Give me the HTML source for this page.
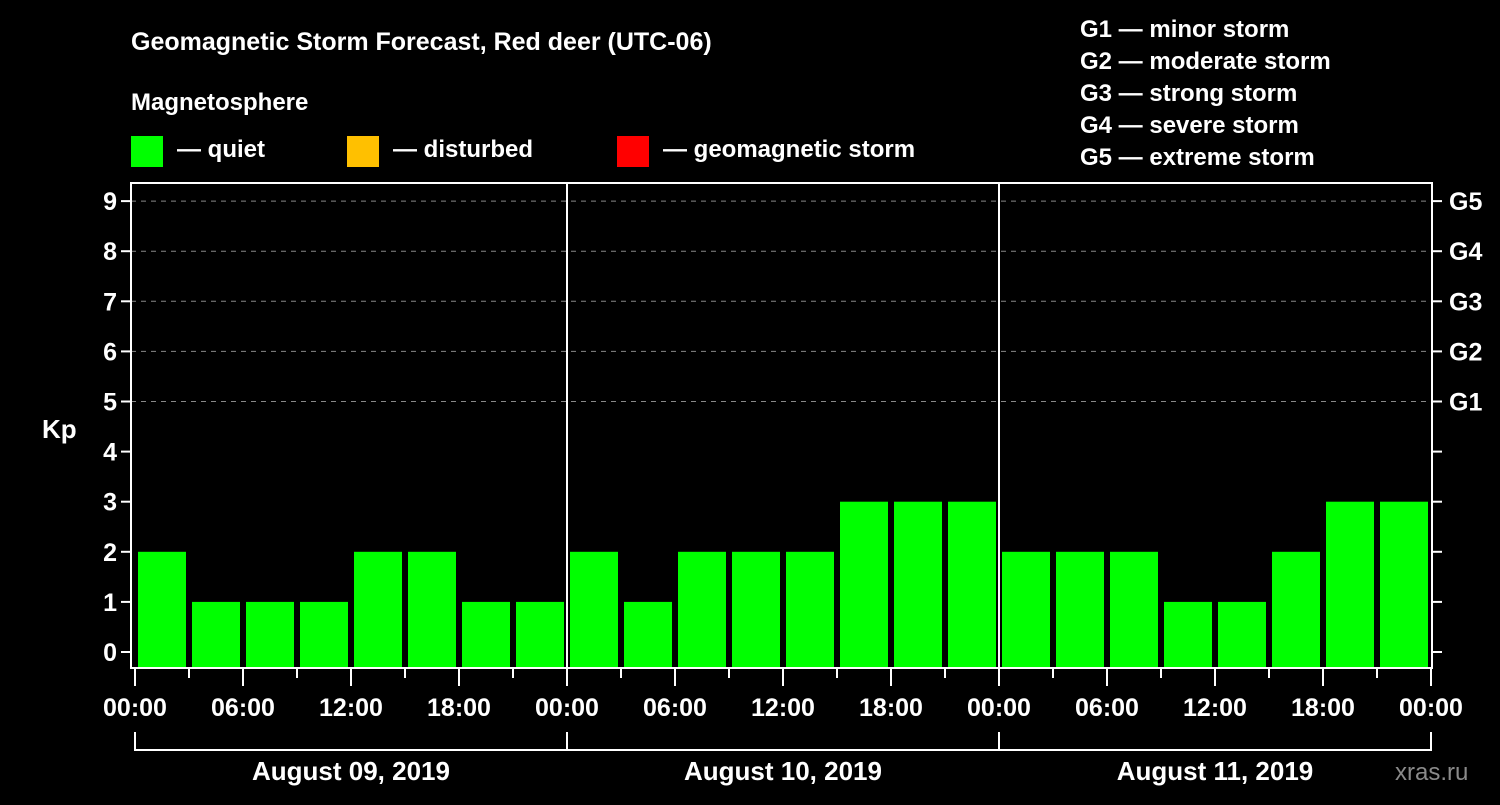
<!DOCTYPE html>
<html><head><meta charset="utf-8"><style>
body{margin:0;background:#000;width:1500px;height:800px;overflow:hidden}
svg text{font-family:"Liberation Sans",Arial,sans-serif;font-weight:bold;fill:#fff}
</style></head><body>
<svg id="c" width="1500" height="800" xmlns="http://www.w3.org/2000/svg">
<rect width="1500" height="800" fill="#000"/>
<text x="131" y="50" font-size="25">Geomagnetic Storm Forecast, Red deer (UTC-06)</text>
<text x="131" y="110" font-size="24">Magnetosphere</text>
<g><rect x="131" y="136" width="32" height="31" fill="#00ff00"/><text x="177" y="157" font-size="24">— quiet</text></g>
<g><rect x="347" y="136" width="32" height="31" fill="#ffc000"/><text x="393" y="157" font-size="24">— disturbed</text></g>
<g><rect x="617" y="136" width="32" height="31" fill="#ff0000"/><text x="663" y="157" font-size="24">— geomagnetic storm</text></g>
<g font-size="24">
<text x="1080" y="37">G1 — minor storm</text>
<text x="1080" y="69">G2 — moderate storm</text>
<text x="1080" y="101">G3 — strong storm</text>
<text x="1080" y="133">G4 — severe storm</text>
<text x="1080" y="165">G5 — extreme storm</text>
</g>
<text x="42" y="438" font-size="26">Kp</text>
<text x="1395" y="780" font-size="24" fill="#888" style="fill:#8a8a8a;font-weight:normal">xras.ru</text>
<g id="plot"></g>
</svg>
<script>
const kpValues=[2,1,1,1,2,2,1,1, 2,1,2,2,2,3,3,3, 2,2,2,1,1,2,3,3];
const dayLabels=["August 09, 2019","August 10, 2019","August 11, 2019"];
const hourLabels=["00:00","06:00","12:00","18:00"];
const yTicks=[0,1,2,3,4,5,6,7,8,9];
const gLabels=["G1","G2","G3","G4","G5"];
const NS="http://www.w3.org/2000/svg";
const g=document.getElementById('plot');
const X0=135,DAY=432,TOP=183,BOT=668,LEFT=131,RIGHT=1432;
const xs=h=>X0+h*(DAY/24);
const ys=v=>652-v*50.1;
function mk(t,a){const e=document.createElementNS(NS,t);for(const k in a)e.setAttribute(k,a[k]);g.appendChild(e);return e;}
yTicks.forEach(v=>{
 if(v>=5){const l=mk('line',{x1:LEFT,x2:RIGHT,y1:ys(v),y2:ys(v),stroke:'#888','stroke-dasharray':'5,5','stroke-width':1});
 
 }
 const t=mk('line',{x1:LEFT-10,x2:LEFT,y1:ys(v),y2:ys(v),stroke:'#fff','stroke-width':2});
 
 
 const t2=mk('line',{x1:RIGHT,x2:RIGHT+10,y1:ys(v),y2:ys(v),stroke:'#fff','stroke-width':2});
 
 
 const lb=mk('text',{x:LEFT-14,y:ys(v)+9,'font-size':25,'text-anchor':'end'});lb.textContent=v;
 
 
});
gLabels.forEach((s,i)=>{const lb=mk('text',{x:RIGHT+17,y:ys(5+i)+9,'font-size':25});lb.textContent=s;
 
 });
kpValues.forEach((v,i)=>{
 const col=v>=5?'#ff0000':(v>=4?'#ffc000':'#00ff00');
 const r=mk('rect',{x:xs(i*3)+3,y:ys(v),width:DAY/8-6,height:BOT-ys(v),fill:col});
 
 
});
const fr=mk('rect',{x:LEFT,y:TOP,width:RIGHT-LEFT,height:BOT-TOP,fill:'none',stroke:'#fff','stroke-width':2});


for(let d=1;d<3;d++){const l=mk('line',{x1:xs(d*24),x2:xs(d*24),y1:TOP,y2:BOT,stroke:'#fff','stroke-width':2});
 
 }
for(let h=0;h<=72;h+=3){
 const major=h%6===0;
 const l=mk('line',{x1:xs(h),x2:xs(h),y1:BOT,y2:BOT+(major?18:10),stroke:'#fff','stroke-width':2});
 
 
 if(major){const t=mk('text',{x:xs(h),y:BOT+48,'font-size':25,'text-anchor':'middle'});t.textContent=hourLabels[(h/6)%4];
 
 }
}
dayLabels.forEach((s,d)=>{
 const a=xs(d*24),b=xs(d*24+24);
 const p=mk('path',{d:`M${a} 732V750H${b}`+(d===2?`V732`:''),stroke:'#fff','stroke-width':2,fill:'none'});
 
 
 const t=mk('text',{x:(a+b)/2,y:780,'font-size':26,'text-anchor':'middle'});t.textContent=s;
 
 
});
</script>
</body></html>
